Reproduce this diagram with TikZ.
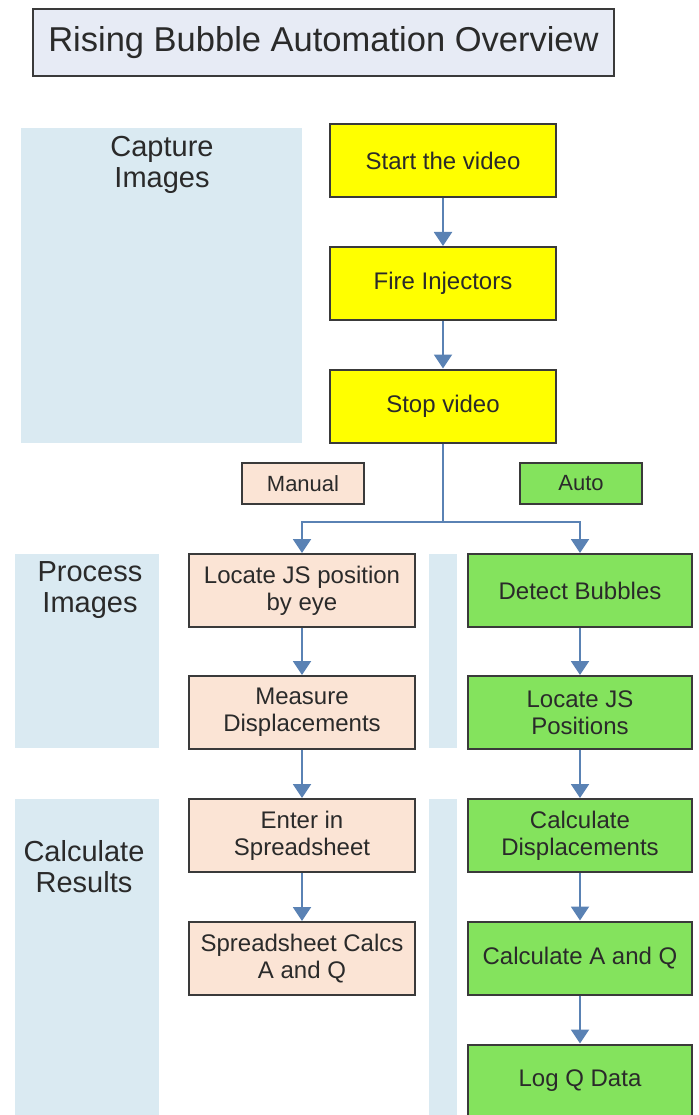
\documentclass[tikz,border=0pt]{standalone}
\usepackage{fontspec}
\setmainfont{Liberation Sans}
\usetikzlibrary{arrows.meta}

\definecolor{panelblue}{HTML}{DAEAF2}
\definecolor{titlefill}{HTML}{E7EBF5}
\definecolor{boxline}{HTML}{3A3A3A}
\definecolor{inktext}{HTML}{2A2A2A}
\definecolor{camyellow}{HTML}{FFFF00}
\definecolor{handpeach}{HTML}{FBE4D5}
\definecolor{autogreen}{HTML}{84E35D}
\definecolor{flowblue}{HTML}{5A82B4}

\begin{document}
\begin{tikzpicture}[x=1pt,y=-1pt,
    panel/.style={fill=panelblue,inner sep=0pt,anchor=north west},
    sidelabel/.style={text=inktext,align=center,font=\fontsize{29}{31}\selectfont},
    box/.style={draw=boxline,line width=2pt,minimum width=226pt,minimum height=73pt,
        inner sep=0pt,align=center,text=inktext,font=\fontsize{24}{27}\selectfont},
    tag/.style={box,minimum width=122pt,minimum height=41pt,font=\fontsize{22}{25}\selectfont},
    wire/.style={draw=flowblue,line width=2pt},
    flow/.style={wire,-{Triangle[width=18pt 0,length=14pt 0]}}]

    \useasboundingbox (0,0) rectangle (698,1115);

    % title
    \node[draw=boxline,line width=2pt,fill=titlefill,minimum width=581pt,minimum height=67pt,
        text=inktext,font=\fontsize{34.5}{37}\selectfont] (title) at (323.5,42.5) {Rising Bubble Automation Overview};

    % background panels
    \node[panel,minimum width=281pt,minimum height=315pt] (capbg) at (21,128) {};
    \node[panel,minimum width=144pt,minimum height=194pt] (procbg) at (15,554) {};
    \node[panel,minimum width=144pt,minimum height=320pt] (calcbg) at (15,799) {};
    \node[panel,minimum width=28pt,minimum height=194pt] (procstrip) at (429,554) {};
    \node[panel,minimum width=28pt,minimum height=320pt] (calcstrip) at (429,799) {};

    % stage names
    \node[sidelabel] (caplbl) at (162,165) {Capture\\Images};
    \node[sidelabel] (proclbl) at (90,590) {Process\\Images};
    \node[sidelabel] (calclbl) at (84,867) {Calculate\\Results};

    % capture steps
    \node[box,fill=camyellow] (start) at (443,161) {Start the video};
    \node[box,fill=camyellow] (fire) at (443,283.5) {Fire Injectors};
    \node[box,fill=camyellow] (stop) at (443,406) {Stop video};

    \draw[flow] (start) -- (fire);
    \draw[flow] (fire) -- (stop);

    % the two routes
    \node[tag,fill=handpeach] (manual) at (303,483.5) {Manual};
    \node[tag,fill=autogreen] (auto) at (581,483.5) {Auto};

    % manual route
    \node[box,fill=handpeach] (locate) at (302,590.5) {Locate JS position\\by eye};
    \node[box,fill=handpeach] (measure) at (302,712.5) {Measure\\Displacements};
    \node[box,fill=handpeach] (enter) at (302,835.5) {Enter in\\Spreadsheet};
    \node[box,fill=handpeach] (sheet) at (302,958.5) {Spreadsheet Calcs\\A and Q};

    % auto route
    \node[box,fill=autogreen,minimum width=224pt] (detect) at (580,590.5) {Detect Bubbles};
    \node[box,fill=autogreen,minimum width=224pt] (locjs) at (580,712.5) {Locate JS\\Positions};
    \node[box,fill=autogreen,minimum width=224pt] (caldisp) at (580,835.5) {Calculate\\Displacements};
    \node[box,fill=autogreen,minimum width=224pt] (calcaq) at (580,958) {Calculate A and Q};
    \node[box,fill=autogreen,minimum width=224pt] (logq) at (580,1081) {Log Q Data};

    % split after stop
    \coordinate (split) at (443,522);
    \draw[wire] (stop) -- (split);
    \draw[flow] (split) -| (locate);
    \draw[flow] (split) -| (detect);

    \draw[flow] (locate) -- (measure);
    \draw[flow] (measure) -- (enter);
    \draw[flow] (enter) -- (sheet);

    \draw[flow] (detect) -- (locjs);
    \draw[flow] (locjs) -- (caldisp);
    \draw[flow] (caldisp) -- (calcaq);
    \draw[flow] (calcaq) -- (logq);

\end{tikzpicture}
\end{document}
